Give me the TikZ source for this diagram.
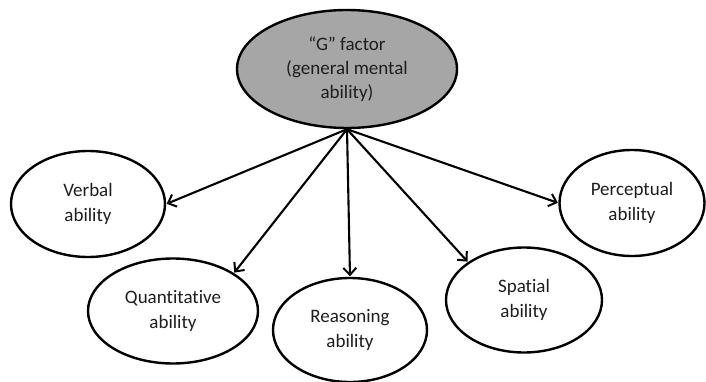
\documentclass[tikz,border=0pt]{standalone}
\usepackage{fontspec}
\setmainfont[Ligatures=NoCommon]{Carlito}
\usetikzlibrary{shapes.geometric,arrows.meta}
\definecolor{gfill}{RGB}{166,166,166}
\definecolor{txt}{RGB}{30,30,30}
\tikzset{
  abil/.style={ellipse, draw=black, line width=2.4pt, fill=white, inner sep=0pt,
    align=center, text=txt, font=\fontsize{19}{25}\selectfont},
  conn/.style={line width=2.1pt, -{Straight Barb[length=7pt,width=13pt,line width=2pt]}, shorten >=0.5pt}
}
\begin{document}
\begin{tikzpicture}[x=1pt,y=-1pt]
\useasboundingbox (0,0) rectangle (706,382);
\node[abil, fill=gfill, minimum width=220pt, minimum height=118pt, font=\fontsize{19}{24}\selectfont] (G) at (347,69) {“G” factor\\(general mental\\ability)};
\node[abil, minimum width=154pt, minimum height=106pt] (V) at (88,204) {Verbal\\ability};
\node[abil, minimum width=170pt, minimum height=105pt] (Q) at (173,311) {Quantitative\\ability};
\node[abil, minimum width=154pt, minimum height=104pt] (R) at (350,330) {Reasoning\\ability};
\node[abil, minimum width=156pt, minimum height=105pt] (S) at (524,300) {Spatial\\ability};
\node[abil, minimum width=145pt, minimum height=106pt] (P) at (632,203) {Perceptual\\ability};
\coordinate (O) at (G.south);
\draw[conn] (O) -- (V.east);
\draw[conn] (O) -- (Q.north east);
\draw[conn] (O) -- (R.north);
\draw[conn] (O) -- (S.north west);
\draw[conn] (O) -- (P.west);
\end{tikzpicture}
\end{document}
